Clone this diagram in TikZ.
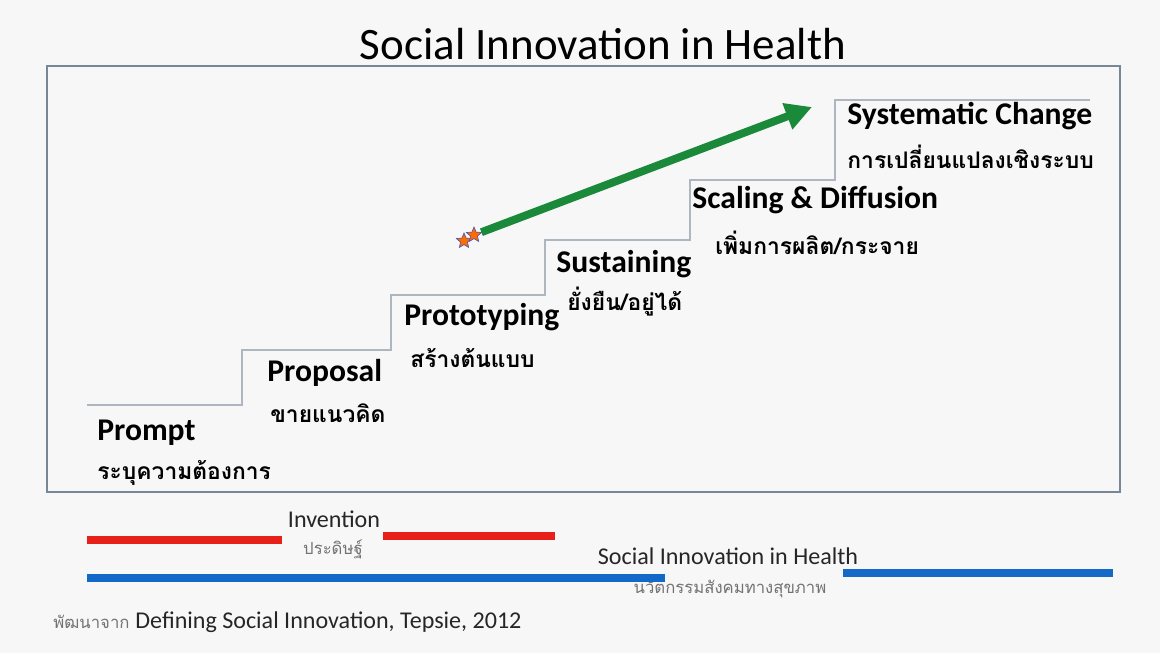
\documentclass[tikz,border=0pt]{standalone}
\usepackage{fontspec}
\setmainfont{Carlito}
\newfontfamily\thaifont[Script=Thai]{Loma}
\usetikzlibrary{positioning,arrows.meta,shapes.geometric}

\definecolor{arrowgreen}{RGB}{26,138,58}
\definecolor{bandred}{RGB}{232,32,26}
\definecolor{bandblue}{RGB}{20,105,200}
\definecolor{framegray}{RGB}{120,135,150}

\begin{document}
\begin{tikzpicture}[x=0.02cm,y=-0.02cm,
stage/.style={anchor=west,inner sep=0pt,font=\bfseries\fontsize{18}{20}\selectfont},
thaisub/.style={anchor=west,inner sep=0pt,font=\thaifont\bfseries\fontsize{13}{15}\selectfont},
stair/.style={draw=framegray!60,line width=0.7pt},
band/.style={line width=4.5pt},
note/.style={inner sep=0pt,font=\fontsize{13.7}{15}\selectfont,text=black!85},
thainote/.style={inner sep=0pt,font=\thaifont\fontsize{9.5}{11}\selectfont,text=black!55},
starmark/.style={star,star points=5,star point ratio=2.2,fill=orange!85!red,
    draw=gray!70!blue,line width=0.4pt,minimum size=9pt,inner sep=0pt}]
\useasboundingbox[fill=black!3] (0,0) rectangle (1160,653);

% title and frame
\node (title) at (603,44) {\fontsize{25.6}{28}\selectfont Social Innovation in Health};
\draw[framegray,line width=0.9pt] (47,66) rectangle (1120,492);

% staircase
\draw[stair] (87,405) -- (242,405) -- (242,350) -- (391,350) -- (391,295)
    -- (545,295) -- (545,240) -- (690,240) -- (690,180) -- (835,180)
    -- (835,100) -- (1090,100);

% stages
\node[stage] (prompt) at (97,433) {Prompt};
\node[thaisub] (promptT) at (97,473) {ระบุความต้องการ};
\node[stage] (proposal) at (267,373) {Proposal};
\node[thaisub] (proposalT) at (270,413) {ขายแนวคิด};
\node[stage] (proto) at (404,317) {Prototyping};
\node[thaisub] (protoT) at (410,358) {สร้างต้นแบบ};
\node[stage] (sustain) at (556,264) {Sustaining};
\node[thaisub] (sustainT) at (567,302) {ยั่งยืน/อยู่ได้};
\node[stage] (scale) at (692,200) {Scaling \& Diffusion};
\node[thaisub] (scaleT) at (715,243) {เพิ่มการผลิต/กระจาย};
\node[stage] (system) at (847,116) {Systematic Change};
\node[thaisub] (systemT) at (847,157) {การเปลี่ยนแปลงเชิงระบบ};

% stars and arrow
\node[starmark] (s1) at (464,241) {};
\node[starmark] (s2) at (474,235) {};
\coordinate (tip) at (812,107);
\draw[arrowgreen,line width=4.5pt,-{Triangle[length=15pt,width=15pt]}] (s2) -- (tip);

% bands
\node[note] (invent) at (334,519) {Invention};
\node[thainote] (inventT) at (333,549) {ประดิษฐ์};
\draw[band,bandred] (87,540) -- (282,540);
\draw[band,bandred] (383,536) -- (555,536);
\node[note] (sih) at (728,556) {Social Innovation in Health};
\node[thainote] (sihT) at (730,589) {นวัตกรรมสังคมทางสุขภาพ};
\draw[band,bandblue] (87,578) -- (665,578);
\draw[band,bandblue] (843,573) -- (1113,573);

% source
\node[thainote,anchor=west] (src) at (53,622) {พัฒนาจาก};
\node[note,right=3pt of src] (srcE) {Defining Social Innovation, Tepsie, 2012};
\end{tikzpicture}
\end{document}
